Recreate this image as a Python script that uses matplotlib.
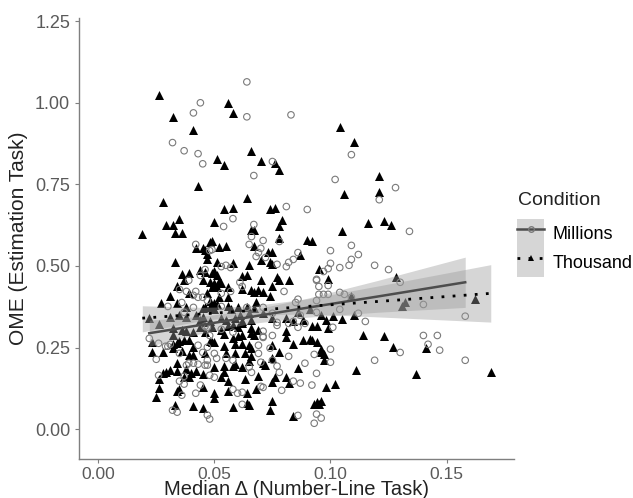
import numpy as np
import matplotlib
matplotlib.use("Agg")
import matplotlib.pyplot as plt
from matplotlib.patches import Patch
from matplotlib.lines import Line2D
from matplotlib.legend_handler import HandlerTuple

plt.rcParams['font.family'] = ['Liberation Sans', 'DejaVu Sans']

# ============= data =============
# Millions condition (hollow circles): (median delta, OME)
millions_pts = [
    (0.064, 1.064), (0.044, 1.000), (0.041, 0.969), (0.064, 0.957), (0.083, 0.963),
    (0.032, 0.878), (0.037, 0.853), (0.043, 0.844), (0.045, 0.813), (0.075, 0.820),
    (0.067, 0.777), (0.109, 0.841), (0.102, 0.765), (0.128, 0.740), (0.121, 0.703),
    (0.081, 0.682), (0.090, 0.673), (0.058, 0.645), (0.054, 0.621), (0.067, 0.627),
    (0.066, 0.590), (0.071, 0.578), (0.078, 0.575), (0.042, 0.566), (0.065, 0.566),
    (0.134, 0.606), (0.109, 0.563), (0.100, 0.547), (0.112, 0.535), (0.109, 0.520),
    (0.100, 0.508), (0.104, 0.495), (0.108, 0.502), (0.119, 0.502), (0.125, 0.489),
    (0.097, 0.483), (0.094, 0.459), (0.130, 0.450), (0.095, 0.437), (0.095, 0.413),
    (0.097, 0.413), (0.104, 0.419), (0.106, 0.413), (0.109, 0.404), (0.094, 0.394),
    (0.140, 0.382), (0.104, 0.367), (0.112, 0.355), (0.094, 0.358), (0.115, 0.330),
    (0.158, 0.346), (0.089, 0.324), (0.101, 0.312), (0.140, 0.287), (0.146, 0.287),
    (0.142, 0.260), (0.130, 0.235), (0.147, 0.242), (0.100, 0.245), (0.093, 0.229),
    (0.119, 0.211), (0.158, 0.211), (0.089, 0.202), (0.094, 0.171), (0.087, 0.141),
    (0.092, 0.135), (0.094, 0.046), (0.093, 0.018),
    (0.048, 0.547), (0.046, 0.489), (0.044, 0.471), (0.039, 0.456), (0.035, 0.428),
    (0.038, 0.422), (0.042, 0.422), (0.041, 0.410), (0.043, 0.404), (0.030, 0.376),
    (0.036, 0.388), (0.070, 0.554), (0.069, 0.541), (0.049, 0.550), (0.086, 0.541),
    (0.068, 0.529), (0.072, 0.526), (0.077, 0.505), (0.084, 0.520), (0.082, 0.511),
    (0.081, 0.498), (0.099, 0.492), (0.055, 0.502), (0.053, 0.498), (0.057, 0.495),
    (0.061, 0.450), (0.062, 0.437), (0.057, 0.422), (0.080, 0.422), (0.094, 0.456),
    (0.099, 0.440), (0.099, 0.413), (0.086, 0.398), (0.085, 0.388), (0.045, 0.404),
    (0.053, 0.416),
    (0.037, 0.358), (0.041, 0.373), (0.047, 0.394), (0.053, 0.376), (0.064, 0.373),
    (0.071, 0.373), (0.075, 0.355), (0.077, 0.327), (0.084, 0.330), (0.087, 0.349),
    (0.022, 0.278), (0.026, 0.263), (0.029, 0.254), (0.030, 0.254),
    (0.025, 0.214), (0.031, 0.260), (0.035, 0.232), (0.043, 0.257), (0.047, 0.251),
    (0.038, 0.196), (0.039, 0.202), (0.041, 0.202), (0.043, 0.199), (0.046, 0.196),
    (0.037, 0.162), (0.035, 0.147), (0.037, 0.138), (0.044, 0.135), (0.026, 0.165),
    (0.042, 0.110), (0.036, 0.104), (0.032, 0.058), (0.047, 0.043),
    (0.046, 0.315), (0.047, 0.312), (0.048, 0.287), (0.053, 0.306), (0.058, 0.297),
    (0.071, 0.300), (0.071, 0.284), (0.075, 0.287), (0.077, 0.318), (0.071, 0.281),
    (0.069, 0.257), (0.074, 0.248), (0.086, 0.312), (0.082, 0.324), (0.045, 0.235),
    (0.050, 0.232), (0.047, 0.211), (0.051, 0.217), (0.055, 0.217), (0.058, 0.211),
    (0.069, 0.232), (0.075, 0.211), (0.077, 0.193), (0.047, 0.196), (0.065, 0.190),
    (0.066, 0.174), (0.078, 0.174), (0.082, 0.223), (0.070, 0.205), (0.100, 0.205),
    (0.048, 0.165), (0.050, 0.159), (0.070, 0.131), (0.071, 0.128), (0.084, 0.147),
    (0.058, 0.122), (0.060, 0.110), (0.062, 0.113), (0.079, 0.119), (0.062, 0.076),
    (0.086, 0.042), (0.034, 0.052), (0.048, 0.031), (0.096, 0.034),
]

# Thousand condition (filled triangles)
thousand_pts = [
    (0.026, 1.024), (0.032, 0.957), (0.041, 0.917), (0.056, 1.000), (0.058, 0.969),
    (0.051, 0.829), (0.054, 0.810), (0.043, 0.746), (0.066, 0.853), (0.070, 0.823),
    (0.076, 0.817), (0.078, 0.795), (0.064, 0.709), (0.028, 0.697), (0.019, 0.599),
    (0.029, 0.627), (0.032, 0.624), (0.035, 0.645), (0.033, 0.602), (0.036, 0.602),
    (0.050, 0.636), (0.054, 0.676), (0.058, 0.679), (0.074, 0.673), (0.076, 0.679),
    (0.079, 0.642), (0.078, 0.621), (0.078, 0.587), (0.066, 0.609), (0.067, 0.609),
    (0.049, 0.575), (0.052, 0.557), (0.055, 0.560), (0.090, 0.581), (0.092, 0.575),
    (0.104, 0.927), (0.110, 0.881), (0.121, 0.777), (0.106, 0.722), (0.121, 0.728),
    (0.116, 0.633), (0.123, 0.639), (0.126, 0.627), (0.105, 0.606), (0.095, 0.492),
    (0.099, 0.459), (0.128, 0.465), (0.132, 0.391), (0.131, 0.376), (0.109, 0.407),
    (0.110, 0.349), (0.091, 0.367), (0.096, 0.349), (0.101, 0.346), (0.088, 0.333),
    (0.098, 0.333), (0.105, 0.336), (0.092, 0.315), (0.094, 0.315), (0.099, 0.309),
    (0.114, 0.287), (0.123, 0.284), (0.127, 0.251), (0.141, 0.248), (0.162, 0.398),
    (0.088, 0.272), (0.091, 0.275), (0.092, 0.272), (0.096, 0.245), (0.096, 0.235),
    (0.097, 0.229), (0.097, 0.211), (0.111, 0.180), (0.137, 0.168), (0.169, 0.174),
    (0.098, 0.128), (0.102, 0.138), (0.094, 0.083), (0.093, 0.076),
    (0.033, 0.511), (0.044, 0.489), (0.039, 0.477), (0.036, 0.474), (0.046, 0.483),
    (0.037, 0.456), (0.034, 0.440), (0.039, 0.416), (0.031, 0.407), (0.027, 0.385),
    (0.034, 0.385), (0.042, 0.554), (0.045, 0.554), (0.047, 0.538), (0.048, 0.572),
    (0.047, 0.520), (0.046, 0.550), (0.067, 0.560), (0.073, 0.544), (0.075, 0.544),
    (0.087, 0.535), (0.070, 0.517), (0.074, 0.511), (0.075, 0.505), (0.051, 0.511),
    (0.058, 0.508), (0.065, 0.502), (0.050, 0.486), (0.049, 0.477), (0.051, 0.471),
    (0.062, 0.468), (0.064, 0.471), (0.070, 0.456), (0.077, 0.465), (0.078, 0.456),
    (0.082, 0.456), (0.045, 0.456), (0.048, 0.450), (0.050, 0.447), (0.052, 0.453),
    (0.053, 0.447), (0.049, 0.437), (0.051, 0.434), (0.056, 0.434), (0.062, 0.428),
    (0.075, 0.440), (0.066, 0.425), (0.067, 0.419), (0.069, 0.425), (0.071, 0.419),
    (0.047, 0.416), (0.052, 0.404), (0.056, 0.404), (0.074, 0.407), (0.068, 0.391),
    (0.048, 0.394), (0.050, 0.388), (0.046, 0.373), (0.050, 0.379),
    (0.038, 0.373), (0.035, 0.349), (0.031, 0.343), (0.038, 0.343), (0.042, 0.349),
    (0.045, 0.343), (0.045, 0.370), (0.048, 0.373), (0.050, 0.367), (0.051, 0.382),
    (0.056, 0.376), (0.057, 0.367), (0.060, 0.373), (0.061, 0.349), (0.064, 0.373),
    (0.065, 0.355), (0.067, 0.370), (0.044, 0.333), (0.045, 0.327), (0.048, 0.330),
    (0.053, 0.339), (0.055, 0.333), (0.059, 0.339), (0.062, 0.330), (0.066, 0.333),
    (0.071, 0.355), (0.081, 0.339), (0.084, 0.330), (0.086, 0.358), (0.026, 0.321),
    (0.032, 0.309), (0.038, 0.300), (0.041, 0.297), (0.044, 0.312), (0.049, 0.312),
    (0.053, 0.303), (0.056, 0.315), (0.058, 0.318), (0.060, 0.312), (0.062, 0.324),
    (0.066, 0.309), (0.069, 0.303), (0.075, 0.339), (0.023, 0.266), (0.032, 0.287),
    (0.036, 0.303), (0.022, 0.339),
    (0.023, 0.235), (0.028, 0.235), (0.032, 0.260), (0.034, 0.263), (0.032, 0.248),
    (0.035, 0.269), (0.037, 0.272), (0.039, 0.272), (0.036, 0.239), (0.041, 0.251),
    (0.039, 0.226), (0.041, 0.226), (0.046, 0.232), (0.034, 0.202), (0.028, 0.171),
    (0.029, 0.174), (0.031, 0.180), (0.034, 0.177), (0.038, 0.183), (0.040, 0.171),
    (0.042, 0.177), (0.037, 0.159), (0.039, 0.159), (0.045, 0.168), (0.026, 0.153),
    (0.026, 0.125), (0.034, 0.116), (0.035, 0.122), (0.025, 0.098), (0.033, 0.073),
    (0.041, 0.070), (0.045, 0.064),
    (0.046, 0.297), (0.049, 0.266), (0.050, 0.266), (0.048, 0.269), (0.054, 0.291),
    (0.058, 0.278), (0.060, 0.284), (0.062, 0.287), (0.066, 0.294), (0.067, 0.287),
    (0.054, 0.254), (0.059, 0.260), (0.062, 0.260), (0.065, 0.257), (0.066, 0.248),
    (0.055, 0.232), (0.059, 0.232), (0.063, 0.232), (0.066, 0.223), (0.081, 0.300),
    (0.081, 0.281), (0.094, 0.266), (0.084, 0.260), (0.075, 0.257), (0.078, 0.235),
    (0.075, 0.217), (0.065, 0.208), (0.050, 0.190), (0.054, 0.193), (0.058, 0.193),
    (0.059, 0.199), (0.062, 0.190), (0.071, 0.202), (0.072, 0.196), (0.054, 0.174),
    (0.053, 0.159), (0.063, 0.153), (0.056, 0.147), (0.069, 0.162), (0.076, 0.159),
    (0.075, 0.144), (0.081, 0.159), (0.082, 0.141), (0.086, 0.187), (0.045, 0.128),
    (0.050, 0.110), (0.050, 0.095), (0.056, 0.116), (0.064, 0.110), (0.068, 0.122),
    (0.075, 0.086), (0.058, 0.067), (0.064, 0.080), (0.074, 0.058), (0.084, 0.040),
    (0.065, 0.073), (0.095, 0.076), (0.096, 0.086),
]

# lm smooths as drawn in the chart: x, fitted value, lower and upper 95% band
mil_fit_x = [0.022, 0.045, 0.065, 0.090, 0.120, 0.158]
mil_fit_y = [0.294, 0.320, 0.343, 0.372, 0.406, 0.450]
mil_fit_lo = [0.254, 0.294, 0.323, 0.343, 0.358, 0.373]
mil_fit_hi = [0.334, 0.346, 0.364, 0.401, 0.455, 0.527]

tho_fit_x = [0.019, 0.045, 0.065, 0.090, 0.120, 0.169]
tho_fit_y = [0.340, 0.353, 0.363, 0.376, 0.391, 0.416]
tho_fit_lo = [0.298, 0.333, 0.349, 0.353, 0.344, 0.328]
tho_fit_hi = [0.378, 0.373, 0.377, 0.399, 0.438, 0.504]

conditions = ["Millions", "Thousand"]
x_ticks = [0.00, 0.05, 0.10, 0.15]
y_ticks = [0.00, 0.25, 0.50, 0.75, 1.00, 1.25]

mil = np.array(millions_pts)
tho = np.array(thousand_pts)

# ============= plotting =============
fig = plt.figure(figsize=(6.33, 4.98), dpi=100)
ax = fig.add_axes([0.125, 0.078, 0.687, 0.886])

ax.scatter(tho[:, 0], tho[:, 1], marker='^', s=42, color='black', linewidths=0, zorder=2)
ax.scatter(mil[:, 0], mil[:, 1], marker='o', s=22, facecolors='none',
           edgecolors='#7a7a7a', linewidths=0.8, zorder=2)

# confidence bands sit on top of the points, the fit lines on top of the bands
ax.fill_between(mil_fit_x, mil_fit_lo, mil_fit_hi, color='#999999', alpha=0.4, linewidth=0, zorder=3)
ax.fill_between(tho_fit_x, tho_fit_lo, tho_fit_hi, color='#999999', alpha=0.4, linewidth=0, zorder=3)
ax.plot(mil_fit_x, mil_fit_y, linestyle='-', color='#4d4d4d', linewidth=1.8, zorder=4)
ax.plot(tho_fit_x, tho_fit_y, linestyle=(0, (1, 3)), color='black', linewidth=2.0, zorder=4)

ax.set_xlim(-0.0082, 0.179)
ax.set_ylim(-0.092, 1.26)
ax.set_xticks(x_ticks)
ax.set_xticklabels([f"{v:.2f}" for v in x_ticks])
ax.set_yticks(y_ticks)
ax.set_yticklabels([f"{v:.2f}" for v in y_ticks])

for side in ['top', 'right']:
    ax.spines[side].set_visible(False)
for side in ['left', 'bottom']:
    ax.spines[side].set_color('#7f7f7f')
    ax.spines[side].set_linewidth(1.0)
ax.tick_params(colors='#7f7f7f', labelcolor='#5a5a5a', labelsize=13, length=3, width=0.8)
ax.tick_params(axis='x', labelsize=12.5, pad=3)

ax.set_xlabel("Median \u0394 (Number-Line Task)", fontsize=14.5, color='#222222', labelpad=-2)
ax.set_ylabel("OME (Estimation Task)", fontsize=15, color='#222222', labelpad=5)

# legend: title as its own text so the key boxes can sit right under it
ax.text(1.009, 0.587, "Condition", transform=ax.transAxes, fontsize=14,
        color='#222222', ha='left', va='center')
band_key = Patch(facecolor='#d6d6d6', edgecolor='none')
h_mil = (band_key, Line2D([], [], color='#4d4d4d', lw=1.8, marker='o', markersize=4,
                          markerfacecolor='none', markeredgecolor='#7a7a7a'))
h_tho = (band_key, Line2D([], [], color='black', lw=2.0, linestyle=(0, (1, 3)),
                          marker='^', markersize=5, markeredgewidth=0))
leg = ax.legend([h_mil, h_tho], conditions, handler_map={tuple: HandlerTuple(ndivide=1, pad=0)},
                loc='upper left', bbox_to_anchor=(1.008, 0.545),
                frameon=False, fontsize=13, handlelength=1.45,
                handleheight=2.1, labelspacing=0, handletextpad=0.5, borderaxespad=0,
                borderpad=0)

fig.savefig("out.png", dpi=100)
